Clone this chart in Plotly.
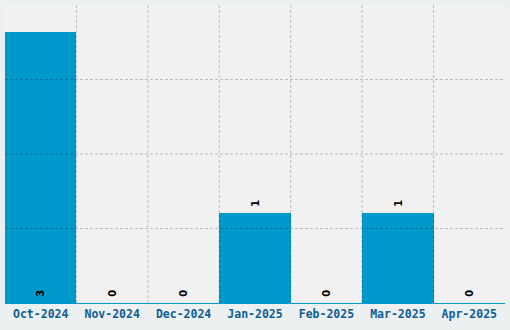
import plotly.graph_objects as go

months = ["Oct-2024", "Nov-2024", "Dec-2024", "Jan-2025", "Feb-2025", "Mar-2025", "Apr-2025"]
counts = [3, 0, 0, 1, 0, 1, 0]
label_pos = ["inside" if c >= 2 else "outside" for c in counts]

y_top = 3.3
lab_font = dict(family="DejaVu Sans", size=10, color="#000000", weight="bold")

fig = go.Figure(go.Bar(
    x=months, y=counts,
    marker=dict(color="#0099CC", line=dict(width=0)),
    width=1.0,
    text=["\u2004" + str(c) for c in counts],
    textposition=label_pos,
    insidetextanchor="start",
    textangle=-90,
    textfont=lab_font,
    outsidetextfont=lab_font,
    insidetextfont=lab_font,
    cliponaxis=False,
))

grid_col = "rgba(0,0,0,0.22)"
shapes = []
for i in range(len(months) - 1):
    shapes.append(dict(type="line", xref="x", yref="paper", x0=i + 0.5, x1=i + 0.5, y0=0, y1=1,
                       line=dict(color=grid_col, width=1, dash="3px,2px"), layer="above"))
for f in [0.25, 0.5, 0.75]:
    shapes.append(dict(type="line", xref="paper", yref="paper", x0=0, x1=1, y0=f, y1=f,
                       line=dict(color=grid_col, width=1, dash="3px,2px"), layer="above"))

fig.update_layout(
    width=510, height=330,
    margin=dict(l=5, r=5, t=5, b=27),
    paper_bgcolor="#ECF0F1",
    plot_bgcolor="#F1F1F1",
    showlegend=False,
    bargap=0,
    shapes=shapes,
    xaxis=dict(
        showgrid=False,
        ticks="", showline=True, linecolor="#0099CC", linewidth=1,
        tickfont=dict(family="DejaVu Sans Mono", size=11.5, color="#0F5E94", weight="bold"),
        range=[-0.5, len(months) - 0.5],
    ),
    yaxis=dict(
        range=[0, y_top],
        showgrid=False,
        showticklabels=False, ticks="", zeroline=False, showline=False,
    ),
)

fig.write_html("out.html")
